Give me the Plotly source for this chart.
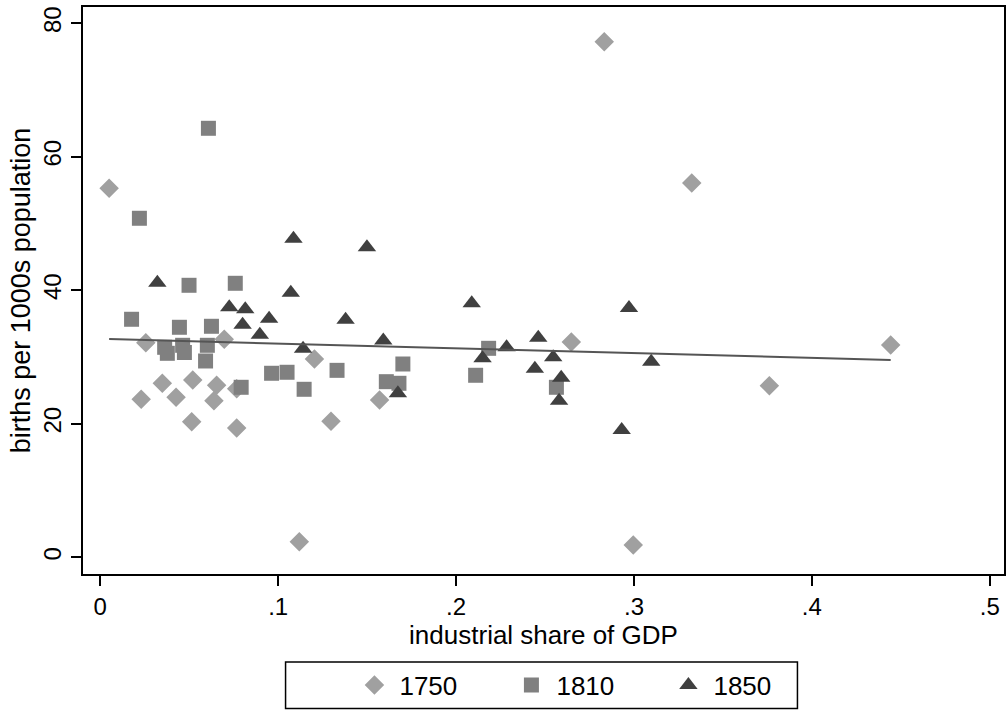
import plotly.graph_objects as go

# ---- data ----
x_1750 = [0.0050, 0.0256, 0.0349, 0.0230, 0.0520, 0.0426, 0.0654, 0.0639, 0.0514, 0.0767,
          0.0697, 0.0767, 0.1204, 0.1297, 0.1570, 0.2648, 0.4443, 0.3761, 0.2996, 0.1119,
          0.2833, 0.3325]
y_1750 = [55.28, 32.15, 26.07, 23.67, 26.56, 23.97, 25.77, 23.46, 20.31, 19.37,
          32.66, 25.26, 29.71, 20.37, 23.57, 32.25, 31.81, 25.71, 1.84, 2.34,
          77.24, 56.07]

x_1810 = [0.0608, 0.0220, 0.0176, 0.0499, 0.0759, 0.0445, 0.0625, 0.0362, 0.0377, 0.0463,
          0.0473, 0.0602, 0.0592, 0.0792, 0.0963, 0.1050, 0.1146, 0.1331, 0.1608, 0.1679,
          0.1701, 0.2183, 0.2110, 0.2564]
y_1810 = [64.27, 50.79, 35.66, 40.75, 41.05, 34.46, 34.61, 31.46, 30.56, 31.76,
          30.68, 31.76, 29.41, 25.47, 27.57, 27.72, 25.17, 28.01, 26.31, 26.07,
          28.96, 31.31, 27.27, 25.47]

x_1850 = [0.0321, 0.1086, 0.1499, 0.1071, 0.0725, 0.0815, 0.0949, 0.0800, 0.0897, 0.1379,
          0.1140, 0.1591, 0.1673, 0.2088, 0.2972, 0.2284, 0.2149, 0.2462, 0.2546, 0.2443,
          0.2591, 0.2579, 0.2931, 0.3097]
y_1850 = [41.14, 47.73, 46.44, 39.64, 37.45, 37.15, 35.75, 34.85, 33.35, 35.60,
          31.25, 32.48, 24.57, 38.05, 37.35, 31.46, 29.81, 32.90, 29.96, 28.25,
          26.91, 23.46, 19.07, 29.30]

# fitted line
fit_x = [0.0050, 0.4443]
fit_y = [32.70, 29.56]

x_ticks = [0, 0.1, 0.2, 0.3, 0.4, 0.5]
x_ticktext = ["0", ".1", ".2", ".3", ".4", ".5"]
y_ticks = [0, 20, 40, 60, 80]
y_ticktext = ["0", "20", "40", "60", "80"]

FONT = "Liberation Sans, Arial, sans-serif"

fig = go.Figure()
fig.add_trace(go.Scatter(x=x_1750, y=y_1750, mode="markers", name="1750",
                         marker=dict(symbol="diamond", size=15, color="#a0a0a0",
                                     line=dict(width=0))))
fig.add_trace(go.Scatter(x=x_1810, y=y_1810, mode="markers", name="1810",
                         marker=dict(symbol="square", size=15, color="#808080",
                                     line=dict(width=0))))
fig.add_trace(go.Scatter(x=x_1850, y=y_1850, mode="markers", name="1850",
                         marker=dict(symbol="triangle-up", size=16, color="#404040",
                                     line=dict(width=0))))
fig.add_trace(go.Scatter(x=fit_x, y=fit_y, mode="lines", showlegend=False,
                         line=dict(color="#555555", width=2)))

L, R, T, B = 83, 2, 7, 137
W, H = 1008, 711
pw = W - L - R
ph = H - T - B

def px_x(p):
    return (p - L) / pw

def px_y(p):
    return (H - B - p) / ph

fig.add_shape(type="rect", xref="paper", yref="paper",
              x0=px_x(286), x1=px_x(799), y0=px_y(708.5), y1=px_y(662),
              line=dict(color="black", width=1.5), fillcolor="rgba(0,0,0,0)")

fig.update_layout(
    width=W, height=H,
    margin=dict(l=L, r=R, t=T, b=B),
    plot_bgcolor="white", paper_bgcolor="white",
    font=dict(family=FONT, color="black", size=24),
    showlegend=True,
    legend=dict(orientation="h", x=px_x(350), xanchor="left",
                y=px_y(685), yanchor="middle",
                bgcolor="rgba(0,0,0,0)", borderwidth=0,
                font=dict(size=26), itemwidth=40, entrywidth=102),
    xaxis=dict(range=[-0.0097, 0.508], tickvals=x_ticks, ticktext=x_ticktext,
               showgrid=False, zeroline=False, showline=True, linewidth=2,
               linecolor="black", mirror=True, ticks="outside", ticklen=10,
               tickwidth=2, tickcolor="black", tickfont=dict(size=24),
               title=dict(text="industrial share of GDP", font=dict(size=26),
                          standoff=6)),
    yaxis=dict(range=[-2.5, 82.44], tickvals=y_ticks, ticktext=y_ticktext,
               tickangle=-90,
               showgrid=False, zeroline=False, showline=True, linewidth=2,
               linecolor="black", mirror=True, ticks="outside", ticklen=10,
               tickwidth=2, tickcolor="black", tickfont=dict(size=24),
               title=dict(text="births per 1000s population", font=dict(size=27),
                          standoff=1)),
)

fig.write_html("out.html")
